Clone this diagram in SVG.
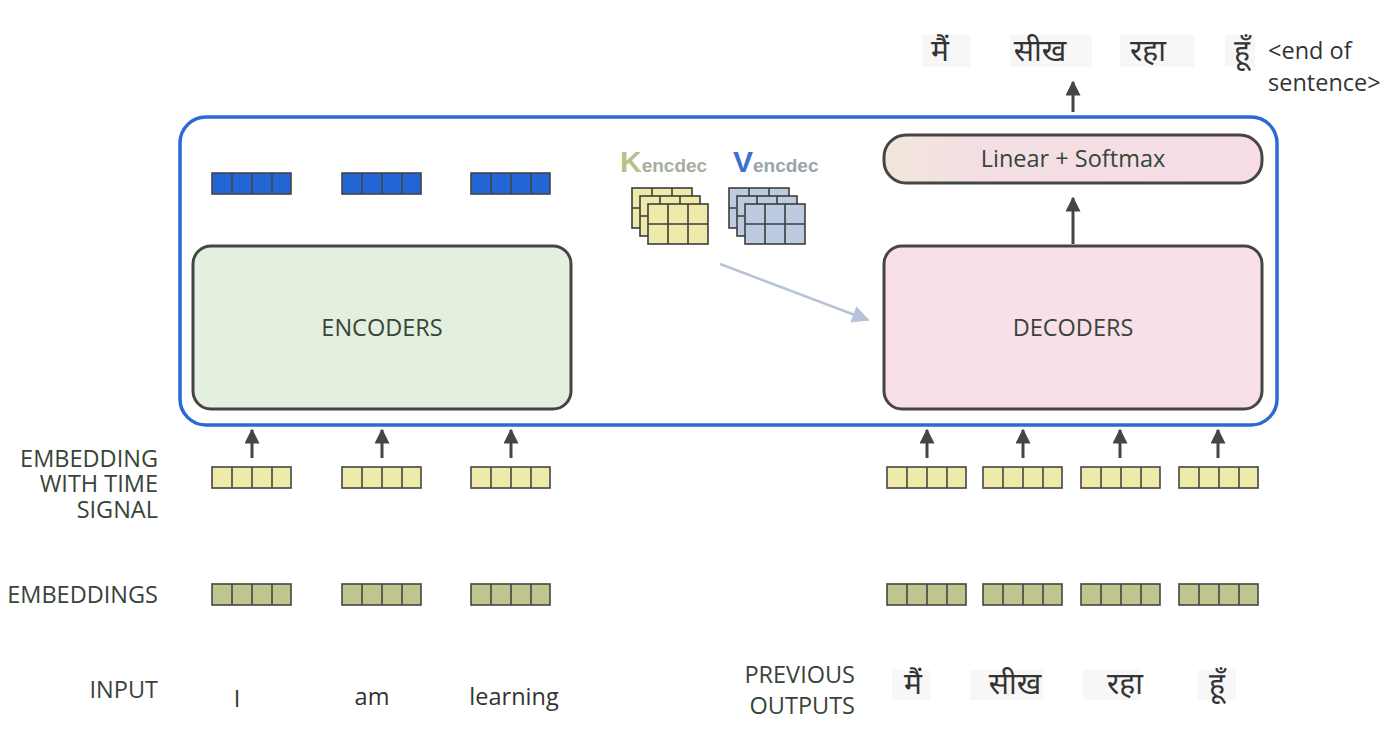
<svg xmlns="http://www.w3.org/2000/svg" width="1400" height="747" viewBox="0 0 1400 747">
<defs>
<style>
.lbl{font-family:"Open Sans","Noto Sans","DejaVu Sans",sans-serif;font-size:23.5px;fill:#364537;font-weight:500;}
.word{font-family:"Open Sans","Noto Sans",sans-serif;font-size:23.5px;fill:#333;font-weight:500;}
.hin{font-family:"Noto Sans Devanagari","Noto Sans","Lohit Devanagari","FreeSans",sans-serif;font-size:30px;fill:#333;}
.box{stroke:#454545;stroke-width:3;}
.cell{stroke:#454545;stroke-width:1.6;}
.blue{fill:#2266d6;}
.yel{fill:#eeeaaa;}
.olive{fill:#c0c48d;}
.mat{stroke:#3c3c3c;stroke-width:1.6;}
.conn{stroke:#454545;stroke-width:3;fill:none;}
.hbg{fill:#f7f7f7;}
</style>
<linearGradient id="lsg" x1="0" y1="0" x2="1" y2="0">
<stop offset="0" stop-color="#f2e6dc"/>
<stop offset="0.25" stop-color="#f3dfe3"/>
<stop offset="1" stop-color="#f6dce7"/>
</linearGradient>
<marker id="ah" viewBox="0 0 10 10" refX="9" refY="5" markerWidth="5" markerHeight="5" orient="auto"><path d="M0,0 L10,5 L0,10 z" fill="#454545"/></marker>
<marker id="ahl" viewBox="0 0 10 10" refX="9" refY="5" markerWidth="7" markerHeight="7" orient="auto"><path d="M0,0 L10,5 L0,10 z" fill="#b7c3d6"/></marker>
<g id="vec">
<rect x="0" y="0" width="79" height="21"/>
<line class="cell" x1="20" y1="0" x2="20" y2="21"/><line class="cell" x1="40" y1="0" x2="40" y2="21"/><line class="cell" x1="60" y1="0" x2="60" y2="21"/>
</g>
<g id="matl">
<rect x="0" y="0" width="60" height="40"/>
<line x1="20" y1="0" x2="20" y2="40"/><line x1="40" y1="0" x2="40" y2="40"/><line x1="0" y1="20" x2="60" y2="20"/>
</g>
</defs>
<rect width="1400" height="747" fill="#fff"/>

<g id="outer">
<rect x="180" y="117" width="1097" height="308" rx="26" fill="none" stroke="#2a6ad8" stroke-width="3.5"/>
</g>

<g id="encoder-outputs" stroke="#454545" stroke-width="1.6">
<use href="#vec" x="212" y="173" class="blue"/>
<use href="#vec" x="342" y="173" class="blue"/>
<use href="#vec" x="471" y="173" class="blue"/>
</g>

<g id="encoders">
<rect class="box" x="193" y="246" width="378" height="163" rx="18" fill="#e3f0df"/>
<text class="lbl" x="382" y="336" text-anchor="middle" fill="#333">ENCODERS</text>
</g>

<g id="decoders">
<rect class="box" x="884" y="246" width="378" height="163" rx="18" fill="#f9dfea"/>
<text class="lbl" x="1073" y="336" text-anchor="middle">DECODERS</text>
</g>

<g id="linear-softmax">
<rect class="box" x="884" y="135" width="378" height="48" rx="22" fill="url(#lsg)"/>
<text class="lbl" x="1073" y="167" text-anchor="middle">Linear + Softmax</text>
</g>

<g id="k-encdec">
<text x="620" y="172" font-family="Liberation Sans,Arial,sans-serif" font-weight="bold" font-size="30" fill="#b9c18b">K<tspan font-size="19" fill="#a6ae9f">encdec</tspan></text>
<g class="mat" fill="#eeeaaa">
<use href="#matl" x="632" y="188"/>
<use href="#matl" x="640" y="196"/>
<use href="#matl" x="648" y="204"/>
</g>
</g>

<g id="v-encdec">
<text x="733" y="172" font-family="Liberation Sans,Arial,sans-serif" font-weight="bold" font-size="30" fill="#3a70d2">V<tspan font-size="19" fill="#9aa3ae">encdec</tspan></text>
<g class="mat" fill="#bccbe0">
<use href="#matl" x="729" y="188"/>
<use href="#matl" x="737" y="196"/>
<use href="#matl" x="745" y="204"/>
</g>
</g>

<g id="emb-time" stroke="#454545" stroke-width="1.6">
<use href="#vec" x="212" y="467" class="yel"/>
<use href="#vec" x="342" y="467" class="yel"/>
<use href="#vec" x="471" y="467" class="yel"/>
<use href="#vec" x="887" y="467" class="yel"/>
<use href="#vec" x="983" y="467" class="yel"/>
<use href="#vec" x="1081" y="467" class="yel"/>
<use href="#vec" x="1179" y="467" class="yel"/>
</g>

<g id="embeddings" stroke="#454545" stroke-width="1.6">
<use href="#vec" x="212" y="584" class="olive"/>
<use href="#vec" x="342" y="584" class="olive"/>
<use href="#vec" x="471" y="584" class="olive"/>
<use href="#vec" x="887" y="584" class="olive"/>
<use href="#vec" x="983" y="584" class="olive"/>
<use href="#vec" x="1081" y="584" class="olive"/>
<use href="#vec" x="1179" y="584" class="olive"/>
</g>

<g id="connectors">
<line class="conn" x1="252" y1="458" x2="252" y2="430" marker-end="url(#ah)"/>
<line class="conn" x1="382" y1="458" x2="382" y2="430" marker-end="url(#ah)"/>
<line class="conn" x1="511" y1="458" x2="511" y2="430" marker-end="url(#ah)"/>
<line class="conn" x1="927" y1="458" x2="927" y2="430" marker-end="url(#ah)"/>
<line class="conn" x1="1023" y1="458" x2="1023" y2="430" marker-end="url(#ah)"/>
<line class="conn" x1="1120" y1="458" x2="1120" y2="430" marker-end="url(#ah)"/>
<line class="conn" x1="1218" y1="458" x2="1218" y2="430" marker-end="url(#ah)"/>
<line class="conn" x1="1073" y1="244" x2="1073" y2="198" marker-end="url(#ah)"/>
<line class="conn" x1="1073" y1="112" x2="1073" y2="82" marker-end="url(#ah)"/>
<line x1="720" y1="264" x2="868" y2="320" stroke="#b7c3d6" stroke-width="2.5" marker-end="url(#ahl)"/>
</g>

<g id="labels">
<text class="lbl" x="158" y="467" text-anchor="end">EMBEDDING</text>
<text class="lbl" x="158" y="492" text-anchor="end">WITH TIME</text>
<text class="lbl" x="158" y="518" text-anchor="end">SIGNAL</text>
<text class="lbl" x="158" y="603" text-anchor="end">EMBEDDINGS</text>
<text class="lbl" x="158" y="698" text-anchor="end">INPUT</text>
<text class="lbl" x="855" y="683" text-anchor="end">PREVIOUS</text>
<text class="lbl" x="855" y="714" text-anchor="end">OUTPUTS</text>
</g>

<g id="inputs">
<text class="word" x="237" y="707" text-anchor="middle">I</text>
<text class="word" x="372" y="705" text-anchor="middle">am</text>
<text class="word" x="514" y="705" text-anchor="middle">learning</text>
</g>

<g id="prev-outputs">
<rect class="hbg" x="892" y="670" width="38" height="30"/>
<rect class="hbg" x="970" y="670" width="73" height="30"/>
<rect class="hbg" x="1083" y="670" width="57" height="30"/>
<rect class="hbg" x="1198" y="670" width="38" height="30"/>
<text class="hin" x="913" y="694" text-anchor="middle">मैं</text>
<text class="hin" x="1015" y="694" text-anchor="middle">सीख</text>
<text class="hin" x="1125" y="694" text-anchor="middle">रहा</text>
<text class="hin" x="1217" y="694" text-anchor="middle">हूँ</text>
</g>

<g id="outputs">
<rect class="hbg" x="922" y="35" width="48" height="32"/>
<rect class="hbg" x="1010" y="35" width="82" height="32"/>
<rect class="hbg" x="1120" y="35" width="74" height="32"/>
<rect class="hbg" x="1225" y="35" width="30" height="32"/>
<text class="hin" x="940" y="61" text-anchor="middle">मैं</text>
<text class="hin" x="1040" y="61" text-anchor="middle">सीख</text>
<text class="hin" x="1148" y="61" text-anchor="middle">रहा</text>
<text class="hin" x="1242" y="61" text-anchor="middle">हूँ</text>
<text class="word" x="1268" y="59">&lt;end of</text>
<text class="word" x="1268" y="91">sentence&gt;</text>
</g>
</svg>
